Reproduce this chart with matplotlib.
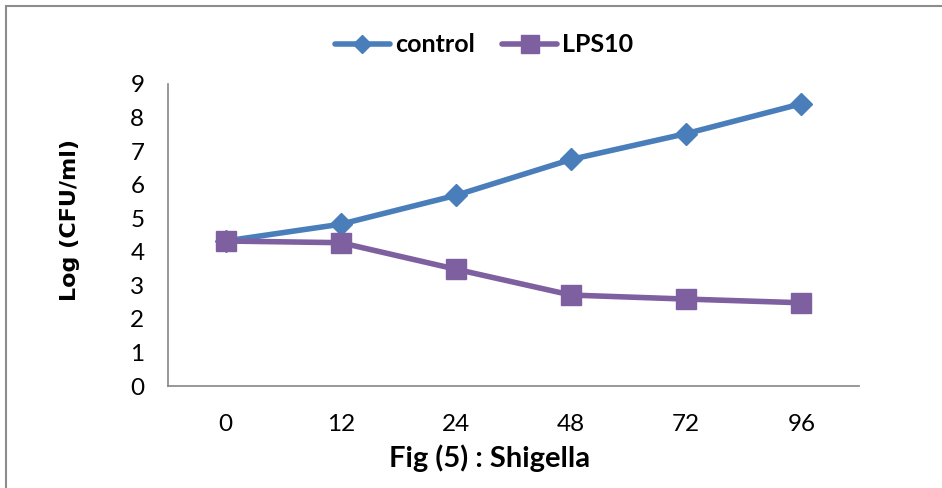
import matplotlib.pyplot as plt
from matplotlib.patches import Rectangle

# Bacterial counts over time
hours = ["0", "12", "24", "48", "72", "96"]
control = [4.32, 4.82, 5.68, 6.75, 7.52, 8.41]
lps10 = [4.32, 4.27, 3.48, 2.71, 2.59, 2.48]

body = ["Lato", "DejaVu Sans"]

fig = plt.figure(figsize=(9.42, 4.88), dpi=100)
ax = fig.add_axes([0.1783, 0.209, 0.7336, 0.619])

x = range(len(hours))
ax.plot(x, control, color="#4A7EBB", lw=4, marker="D", ms=11,
        label="control", solid_capstyle="round")
ax.plot(x, lps10, color="#7E60A0", lw=4, marker="s", ms=14.5,
        label="LPS10", solid_capstyle="round")

ax.set_xlim(-0.5, 5.5)
ax.set_ylim(0, 9)
ax.set_yticks(range(10))
ax.set_xticks(list(x))
ax.set_xticklabels(hours)

for side in ["top", "right"]:
    ax.spines[side].set_visible(False)
for side in ["left", "bottom"]:
    ax.spines[side].set_color("#868686")
    ax.spines[side].set_linewidth(1.2)

ax.tick_params(axis="both", length=0)
ax.tick_params(axis="x", pad=20)
ax.tick_params(axis="y", pad=17)
for lbl in ax.get_xticklabels() + ax.get_yticklabels():
    lbl.set_family(body)
    lbl.set_fontsize(17.5)

ax.set_xlabel("Fig (5) : Shigella", family=body, fontsize=21,
              fontweight="bold", labelpad=7)
ax.xaxis.label.set_x(0.465)
ax.set_ylabel("Log (CFU/ml)", family="DejaVu Sans", fontsize=16,
              fontweight="bold")
ax.yaxis.set_label_coords(-0.128, 0.55)

leg = ax.legend(loc="center", bbox_to_anchor=(0.514, 0.908),
                bbox_transform=fig.transFigure, ncol=2, frameon=False,
                prop={"family": body, "size": 18, "weight": "bold"},
                handlelength=2.2, handletextpad=0.2, columnspacing=1.1,
                markerscale=0.85)

# chart frame
fig.patches.append(Rectangle((6 / 942, -0.1), 1.2, 1.1 - 6 / 488,
                             transform=fig.transFigure, fill=False,
                             edgecolor="#8c8c8c", lw=1.5))

fig.savefig("out.png", dpi=100)
